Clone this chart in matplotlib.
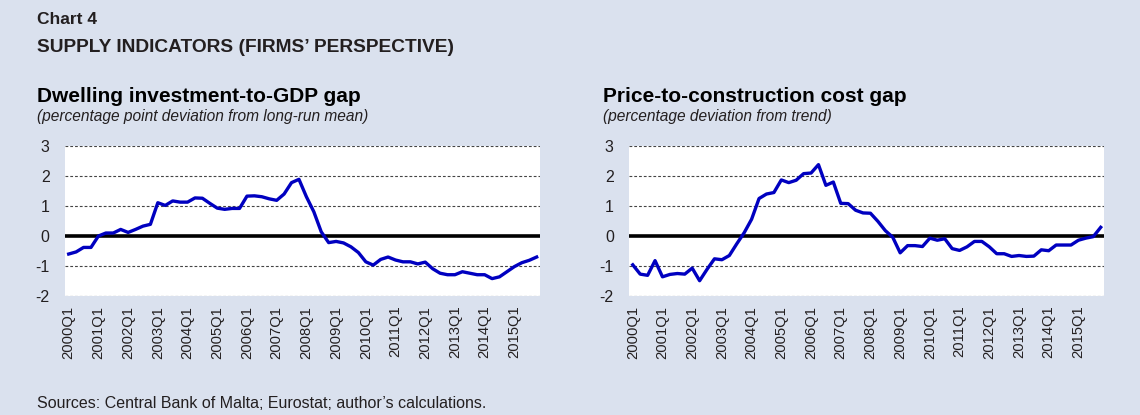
import numpy as np
import matplotlib
matplotlib.use('Agg')
from matplotlib import pyplot as plt
from matplotlib import rcParams

rcParams['font.family'] = ['Liberation Sans', 'DejaVu Sans']

# quarterly labels 2000Q1 .. 2015Q4
quarters = ['%dQ%d' % (y, q) for y in range(2000, 2016) for q in range(1, 5)]

dwelling_gap = [
    -0.60, -0.53, -0.38, -0.38, 0.00, 0.10, 0.10, 0.22,
    0.12, 0.22, 0.33, 0.39, 1.11, 1.02, 1.17, 1.13,
    1.13, 1.27, 1.26, 1.09, 0.93, 0.89, 0.92, 0.92,
    1.33, 1.34, 1.31, 1.24, 1.19, 1.40, 1.78, 1.89,
    1.31, 0.81, 0.14, -0.22, -0.18, -0.23, -0.36, -0.55,
    -0.86, -0.97, -0.78, -0.70, -0.80, -0.86, -0.86, -0.93,
    -0.87, -1.09, -1.24, -1.29, -1.29, -1.19, -1.24, -1.29,
    -1.29, -1.42, -1.36, -1.19, -1.02, -0.89, -0.81, -0.70,
]

price_cost_gap = [
    -0.96, -1.27, -1.31, -0.82, -1.36, -1.28, -1.25, -1.27,
    -1.07, -1.49, -1.11, -0.76, -0.79, -0.65, -0.26, 0.11,
    0.56, 1.25, 1.40, 1.45, 1.87, 1.78, 1.86, 2.08,
    2.10, 2.38, 1.69, 1.80, 1.09, 1.08, 0.86, 0.77,
    0.76, 0.49, 0.18, -0.04, -0.56, -0.32, -0.32, -0.35,
    -0.07, -0.14, -0.09, -0.42, -0.48, -0.36, -0.18, -0.18,
    -0.36, -0.59, -0.59, -0.68, -0.65, -0.68, -0.67, -0.46,
    -0.49, -0.30, -0.30, -0.30, -0.14, -0.07, -0.02, 0.29,
]

bg = '#dae1ee'
txt = '#231f20'
line_col = '#0000c0'

fig = plt.figure(figsize=(11.4, 4.15), dpi=100)
fig.patch.set_facecolor(bg)

panels = [
    (0.057, dwelling_gap, 'Dwelling investment-to-GDP gap',
     '(percentage point deviation from long-run mean)', 37),
    (0.5518, price_cost_gap, 'Price-to-construction cost gap',
     '(percentage deviation from trend)', 603),
]

for left, series, title, subtitle, tx in panels:
    ax = fig.add_axes([left, 0.2867, 0.417, 0.3614])
    ax.set_facecolor('white')
    x = np.arange(len(quarters))
    ax.set_xlim(-0.5, len(quarters) - 0.5)
    ax.set_ylim(-2, 3)
    for v in [-2, -1, 1, 2, 3]:
        ax.axhline(v, color='#444444', linestyle=(0, (2.5, 1.8)), linewidth=0.8, zorder=1)
    ax.axhline(0, color='black', linewidth=2.6, zorder=2)
    ax.plot(x, series, color=line_col, linewidth=2.4, zorder=3, solid_joinstyle='round')
    for s in ax.spines.values():
        s.set_visible(False)
    ax.set_yticks([-2, -1, 0, 1, 2, 3])
    ax.set_yticklabels(['-2', '-1', '0', '1', '2', '3'])
    ax.set_xticks(x[::4])
    ax.set_xticklabels(quarters[::4], rotation=90)
    ax.tick_params(axis='both', length=0, colors=txt)
    ax.tick_params(axis='y', pad=11, labelsize=11.5)
    ax.tick_params(axis='x', pad=7, labelsize=10.6)

    fig.text(tx / 1140, 1 - 97 / 415, title, fontsize=15, fontweight='bold',
             color='black', va='center')
    fig.text(tx / 1140, 1 - 116 / 415, subtitle, fontsize=11.2, style='italic',
             color=txt, va='center')

fig.text(37 / 1140, 1 - 20 / 415, 'Chart 4', fontsize=12.5, fontweight='bold',
         color=txt, va='center')
fig.text(37 / 1140, 1 - 47 / 415, 'SUPPLY INDICATORS (FIRMS\u2019 PERSPECTIVE)',
         fontsize=13.8, fontweight='bold', color=txt, va='center')
fig.text(37 / 1140, 1 - 403 / 415,
         'Sources: Central Bank of Malta; Eurostat; author\u2019s calculations.',
         fontsize=11.5, color=txt, va='center')

fig.savefig('out.png', dpi=100, facecolor=bg)
